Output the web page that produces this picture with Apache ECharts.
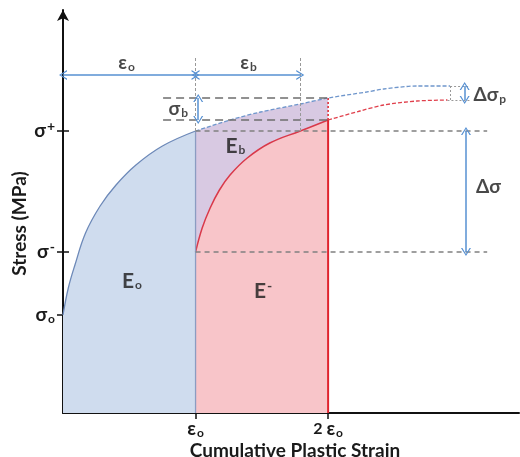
<!DOCTYPE html>
<html>
<head>
<meta charset="utf-8">
<script src="https://cdn.jsdelivr.net/npm/echarts@6/dist/echarts.min.js"></script>
<style>
  html, body { margin: 0; padding: 0; background: #fff; }
  #chart { width: 520px; height: 457px; }
</style>
</head>
<body>
<div id="chart"></div>
<script>
// Strain is expressed in multiples of the pre-strain eps_o; stress in arbitrary units.
const strainTicks = [1, 2];
const stressTicks = [98, 161, 282];          // sigma_o, sigma-, sigma+
const stressTickMarks = ['o', '-', '+'];

// Monotonic hardening curve up to eps_o (area E_o)
const monoStrain = [0, 0.04, 0.09, 0.17, 0.28, 0.40, 0.55, 0.75, 1.0];
const monoStress = [98, 125, 148, 180, 207, 228, 248, 267, 282];

// Monotonic curve continued past eps_o (dashed)
const monoExtStrain = [1.0, 1.26, 1.49, 1.79, 2.0, 2.29, 2.42, 2.67, 2.92];
const monoExtStress = [282, 293, 301, 309, 315, 321, 324, 327, 327];

// Reverse-loading curve starting at sigma- (area E-)
const revStrain = [1.0, 1.05, 1.11, 1.18, 1.26, 1.39, 1.56, 1.79, 2.0];
const revStress = [161, 185, 205, 223, 238, 255, 270, 282, 293];

// Reverse curve continued past 2 eps_o (dashed)
const revExtStrain = [2.0, 2.24, 2.42, 2.67, 2.9];
const revExtStress = [293, 302, 308, 312, 313];

// Characteristic strains / stresses used by the guide lines
const EPS_O = 1;
const EPS_B_END = 1.79;
const SIG_O = stressTicks[0], SIG_MINUS = stressTicks[1], SIG_PLUS = stressTicks[2];
const SIG_B_TOP = monoExtStress[4], SIG_B_BOT = revStress[revStress.length - 1];
const SIG_P_TOP = monoExtStress[monoExtStress.length - 1];
const SIG_P_BOT = revExtStress[revExtStress.length - 1];

const zip = (xs, ys) => xs.map((x, i) => [x, ys[i]]);

const FONT = 'Lato, "Open Sans", "DejaVu Sans", sans-serif';
const INK = '#1a1a1a';
const rich = {
  g: { fontSize: 19, fontWeight: 'bold', fontFamily: FONT, color: INK },
  big: { fontSize: 21, fontWeight: 'bold', fontFamily: FONT, color: INK },
  n: { fontSize: 16, fontWeight: 'bold', fontFamily: FONT, color: INK },
  s: { fontSize: 12, fontWeight: 'bold', fontFamily: FONT, color: INK, padding: [9, 0, 0, 1] },
  p: { fontSize: 14, fontWeight: 'bold', fontFamily: FONT, color: INK, padding: [0, 0, 10, 1] }
};

const annotations = [
  { at: [0.48, 350], text: '{g|ε}{s|o}' },
  { at: [1.40, 350], text: '{g|ε}{s|b}' },
  { at: [0.87, 304], text: '{g|σ}{s|b}' },
  { at: [1.30, 267], text: '{big|E}{s|b}' },
  { at: [0.52, 132], text: '{big|E}{s|o}' },
  { at: [1.51, 122], text: '{big|E}{p|-}' },
  { at: [3.21, 226], text: '{g|Δσ}' },
  { at: [3.22, 318], text: '{g|Δσ}{s|p}' }
];

const GUIDE = '#808080';
const ARROW = '#5690d2';
const CHEVRON = 'path://M0,10 L5,0 L10,10 L8.6,10 L5,2.6 L1.4,10 Z';

function seg(a, b, style) {
  return [{ coord: a, lineStyle: style }, { coord: b }];
}

const guideLines = [
  seg([EPS_O, SIG_PLUS], [3.20, SIG_PLUS], { color: GUIDE, width: 1.5, type: [5, 4] }),
  seg([EPS_O, SIG_MINUS], [3.20, SIG_MINUS], { color: GUIDE, width: 1.5, type: [5, 4] }),
  seg([0.755, SIG_B_TOP], [2, SIG_B_TOP], { color: '#6e6e6e', width: 1.5, type: [8, 5] }),
  seg([0.755, SIG_B_BOT], [2, SIG_B_BOT], { color: '#6e6e6e', width: 1.5, type: [8, 5] }),
  seg([EPS_O, SIG_PLUS], [EPS_O, 355], { color: '#999', width: 1, type: [3, 2] }),
  seg([EPS_B_END, SIG_PLUS], [EPS_B_END, 355], { color: '#999', width: 1, type: [3, 2] }),
  seg([2.92, SIG_P_BOT], [2.92, SIG_P_TOP], { color: '#999', width: 1, type: [2, 2] }),
  seg([2.92, SIG_P_TOP], [3.07, SIG_P_TOP], { color: '#999', width: 1, type: [2, 2] }),
  seg([2.90, SIG_P_BOT], [3.07, SIG_P_BOT], { color: '#999', width: 1, type: [2, 2] })
];

const arrowLines = [
  [{ coord: [0, 338] }, { coord: [EPS_O, 338] }],
  [{ coord: [EPS_O, 338] }, { coord: [EPS_B_END, 338] }],
  [{ coord: [1.02, SIG_B_BOT] }, { coord: [1.02, SIG_B_TOP] }],
  [{ coord: [3.04, SIG_MINUS] }, { coord: [3.04, SIG_PLUS] }],
  [{ coord: [3.03, SIG_P_BOT] }, { coord: [3.03, SIG_P_TOP] }]
];

const chart = echarts.init(document.getElementById('chart'), null, { renderer: 'canvas' });

const axisBlack = { color: '#111', width: 2 };

chart.setOption({
  animation: false,
  backgroundColor: '#fff',
  grid: { left: 63, right: 1, top: 10, bottom: 44, containLabel: false, outerBoundsMode: 'none' },
  xAxis: {
    type: 'value', min: 0, max: 3.44,
    splitLine: { show: false },
    axisLine: { lineStyle: axisBlack },
    axisTick: { customValues: strainTicks, length: 6, lineStyle: { color: '#111', width: 1.5 } },
    axisLabel: {
      customValues: strainTicks, margin: 5, rich,
      formatter: v => (v === 1 ? '' : '{n|' + v + ' }') + '{g|ε}{s|o}'
    },
    name: 'Cumulative Plastic Strain', nameLocation: 'middle', nameGap: 28, nameMoveOverlap: false,
    nameTextStyle: { fontSize: 19, fontWeight: 'bold', fontFamily: FONT, color: INK, padding: [0, 0, 0, 8] }
  },
  yAxis: [{
    type: 'value', min: 0, max: 403,
    splitLine: { show: false },
    axisLine: { lineStyle: axisBlack, symbol: ['none', 'arrow'], symbolSize: [9, 11] },
    axisTick: { customValues: stressTicks, length: 6, lineStyle: { color: '#111', width: 1.5 } },
    axisLabel: {
      customValues: stressTicks, margin: 8, rich,
      formatter: v => {
        const m = stressTickMarks[stressTicks.indexOf(v)];
        return m === 'o' ? '{g|σ}{s|o}' : '{g|σ}{p|' + m + '}';
      }
    },
    name: 'Stress (MPa)', nameLocation: 'middle', nameGap: 34, nameMoveOverlap: false,
    nameTextStyle: { fontSize: 19, fontWeight: 'bold', fontFamily: FONT, color: INK, padding: [0, 0, 0, -24] }
  }, {
    type: 'value', min: 0, max: 403, position: 'left',
    splitLine: { show: false }, axisLine: { show: false }, axisLabel: { show: false },
    axisTick: { customValues: stressTicks, inside: true, length: 6, lineStyle: { color: '#111', width: 1.5 } }
  }],
  series: [
    { // E_b region under the continued monotonic curve
      type: 'line', data: zip(monoExtStrain, monoExtStress).slice(0, 5), smooth: 0.3,
      showSymbol: false, lineStyle: { width: 0 },
      areaStyle: { color: '#d8c9e2', opacity: 1 }, silent: true
    },
    { // E_o region
      type: 'line', data: zip(monoStrain, monoStress), smooth: 0.4,
      showSymbol: false, lineStyle: { color: '#6d89b8', width: 1.3 },
      areaStyle: { color: '#cfdcee', opacity: 1 }, silent: true
    },
    { // E- region
      type: 'line', data: zip(revStrain, revStress), smooth: 0.4,
      showSymbol: false, lineStyle: { color: '#d9394a', width: 1.5 },
      areaStyle: { color: '#f8c5c9', opacity: 1 }, silent: true
    },
    { // left edge of E_b / E- at eps_o
      type: 'line', data: [[EPS_O, 0], [EPS_O, SIG_PLUS]],
      showSymbol: false, lineStyle: { color: '#8b9cc2', width: 1.3 }, silent: true
    },
    { // right edge of E- at 2 eps_o
      type: 'line', data: [[2, 0], [2, SIG_B_BOT]],
      showSymbol: false, lineStyle: { color: '#e0232e', width: 2 }, silent: true
    },
    {
      type: 'line', data: [[2, SIG_B_BOT], [2, SIG_B_TOP]],
      showSymbol: false, lineStyle: { color: '#e0232e', width: 1.5, type: [2, 2] }, silent: true
    },
    { // continued monotonic curve
      type: 'line', data: zip(monoExtStrain, monoExtStress), smooth: 0.3,
      showSymbol: false, lineStyle: { color: '#6f96cc', width: 1.3, type: [4, 2] }, silent: true
    },
    { // continued reverse curve
      type: 'line', data: zip(revExtStrain, revExtStress), smooth: 0.3,
      showSymbol: false, lineStyle: { color: '#e0404c', width: 1.3, type: [4, 2] }, silent: true
    },
    { // guide lines
      type: 'line', data: [], silent: true,
      markLine: { silent: true, symbol: 'none', label: { show: false }, emphasis: { disabled: true }, data: guideLines }
    },
    { // dimension arrows
      type: 'line', data: [], silent: true,
      markLine: {
        silent: true, symbol: [CHEVRON, CHEVRON], symbolSize: [10, 8],
        label: { show: false }, emphasis: { disabled: true },
        lineStyle: { color: ARROW, width: 1.5, type: 'solid' },
        data: arrowLines
      }
    },
    { // region and dimension labels
      type: 'scatter', symbolSize: 0, z: 10, itemStyle: { color: 'transparent' }, silent: true,
      data: annotations.map(a => ({
        value: a.at,
        label: { show: true, position: 'inside', formatter: a.text, rich }
      }))
    }
  ]
});
</script>
</body>
</html>
